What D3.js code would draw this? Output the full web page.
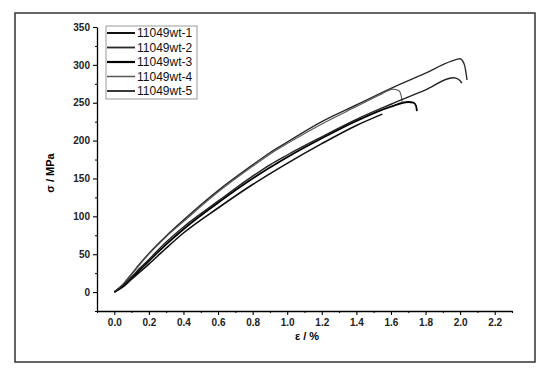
<!DOCTYPE html>
<html>
<head>
<meta charset="utf-8">
<script src="https://cdn.jsdelivr.net/npm/d3@7"></script>
<style>
  body { margin: 0; background: #fff; }
  text { font-family: Arial, "Liberation Sans", sans-serif; }
</style>
</head>
<body>
<div id="chart"></div>
<script>
// stress-strain curves: [strain %, stress MPa]
const names = ['11049wt-1', '11049wt-2', '11049wt-3', '11049wt-4', '11049wt-5'];

const wt1 = [[0,0],[0.05,7],[0.1,17],[0.15,27],[0.2,37],[0.3,58],[0.4,78],[0.6,111],[0.8,142],[1.0,170],[1.2,196],[1.4,220],[1.55,235]];
const wt2 = [[0,0],[0.05,10],[0.1,24],[0.15,38],[0.2,51],[0.3,74],[0.4,95],[0.6,134],[0.8,168],[0.9,184],[1.0,198],[1.2,225],[1.4,247],[1.6,269],[1.8,289],[1.95,305],[2.0,308],[2.025,300],[2.04,280]];
const wt3 = [[0,0],[0.05,8],[0.1,19],[0.15,30],[0.2,41],[0.3,63],[0.4,83],[0.6,118],[0.8,150],[1.0,178],[1.2,203],[1.4,226],[1.6,245],[1.7,251],[1.73,250],[1.745,246],[1.75,239]];
const wt4 = [[0,0],[0.05,10],[0.1,23],[0.15,37],[0.2,50],[0.3,73],[0.4,93],[0.6,132],[0.8,166],[0.9,182],[1.0,196],[1.2,222],[1.4,245],[1.55,262],[1.61,268],[1.645,266],[1.66,258],[1.665,250]];
const wt5 = [[0,0],[0.05,9],[0.1,20],[0.15,32],[0.2,43],[0.3,66],[0.4,86],[0.6,120],[0.8,153],[0.9,168],[1.0,181],[1.2,205],[1.4,228],[1.6,248],[1.8,267],[1.96,283],[1.99,281],[2.01,276]];

const series = [wt1, wt2, wt3, wt4, wt5];
const colors = ['#111', '#2a2a2a', '#000', '#555', '#222'];
const widths = [1.6, 1.4, 1.8, 1.1, 1.4];

const xTicks = [0.0, 0.2, 0.4, 0.6, 0.8, 1.0, 1.2, 1.4, 1.6, 1.8, 2.0, 2.2];
const yTicks = [0, 50, 100, 150, 200, 250, 300, 350];

const width = 559, height = 370;

const x = d3.scaleLinear().domain([-0.1, 2.3]).range([97, 512]);
const y = d3.scaleLinear().domain([-25, 350]).range([311, 27]);

const svg = d3.select('#chart').append('svg')
  .attr('width', width)
  .attr('height', height);

svg.append('rect')
  .attr('width', width).attr('height', height)
  .attr('fill', '#fff');

// outer frame
svg.append('rect')
  .attr('x', 15).attr('y', 13)
  .attr('width', 520).attr('height', 349)
  .attr('fill', 'none')
  .attr('stroke', '#333')
  .attr('stroke-width', 1.5);

// minor ticks
const xMinor = d3.range(-0.1, 2.31, 0.2).map(v => +v.toFixed(1));
const yMinor = d3.range(-25, 351, 50);

svg.append('g')
  .attr('transform', `translate(0,${y(-25)})`)
  .call(d3.axisBottom(x).tickValues(xMinor).tickSize(2).tickFormat(''))
  .call(g => g.select('.domain').remove());

svg.append('g')
  .attr('transform', `translate(${x(-0.1)},0)`)
  .call(d3.axisLeft(y).tickValues(yMinor).tickSize(2).tickFormat(''))
  .call(g => g.select('.domain').remove());

const xAxis = svg.append('g')
  .attr('transform', `translate(0,${y(-25)})`)
  .call(d3.axisBottom(x).tickValues(xTicks).tickSize(4).tickSizeOuter(0).tickPadding(4).tickFormat(d3.format('.1f')));

const yAxis = svg.append('g')
  .attr('transform', `translate(${x(-0.1)},0)`)
  .call(d3.axisLeft(y).tickValues(yTicks).tickSize(4).tickSizeOuter(0).tickPadding(3));

[xAxis, yAxis].forEach(a => {
  a.selectAll('.domain').attr('stroke', '#000').attr('stroke-width', 1.3);
  a.selectAll('.tick line').attr('stroke', '#000').attr('stroke-width', 1.1);
  a.selectAll('text')
    .attr('font-size', 10)
    .attr('font-weight', 'bold')
    .attr('fill', '#222')
    .style('font-family', 'Arial, "Liberation Sans", sans-serif');
});

// curves
const line = d3.line()
  .x(d => x(d[0]))
  .y(d => y(d[1]))
  .curve(d3.curveMonotoneX);

svg.append('g')
  .attr('fill', 'none')
  .selectAll('path')
  .data(series)
  .join('path')
    .attr('d', line)
    .attr('stroke', (d, i) => colors[i])
    .attr('stroke-width', (d, i) => widths[i])
    .attr('stroke-linejoin', 'round');

// axis titles
svg.append('text')
  .attr('transform', 'translate(54,173) rotate(-90)')
  .attr('text-anchor', 'middle')
  .attr('font-size', 11)
  .attr('font-weight', 'bold')
  .attr('fill', '#000')
  .text('σ / MPa');

svg.append('text')
  .attr('x', 307).attr('y', 340)
  .attr('text-anchor', 'middle')
  .attr('font-size', 11)
  .attr('font-weight', 'bold')
  .attr('fill', '#000')
  .text('ε / %');

// legend
const legend = svg.append('g');
legend.append('rect')
  .attr('x', 106).attr('y', 26)
  .attr('width', 91).attr('height', 73)
  .attr('fill', '#fff')
  .attr('stroke', '#999')
  .attr('stroke-width', 1);

const item = legend.selectAll('g.item')
  .data(names)
  .join('g')
  .attr('class', 'item')
  .attr('transform', (d, i) => `translate(0,${33 + i * 14.5})`);

item.append('line')
  .attr('x1', 107).attr('x2', 135)
  .attr('stroke', (d, i) => colors[i])
  .attr('stroke-width', (d, i) => widths[i] + 0.4);

item.append('text')
  .attr('x', 137).attr('dy', '0.35em')
  .attr('font-size', 12)
  .attr('fill', '#111')
  .text(d => d);
</script>
</body>
</html>
